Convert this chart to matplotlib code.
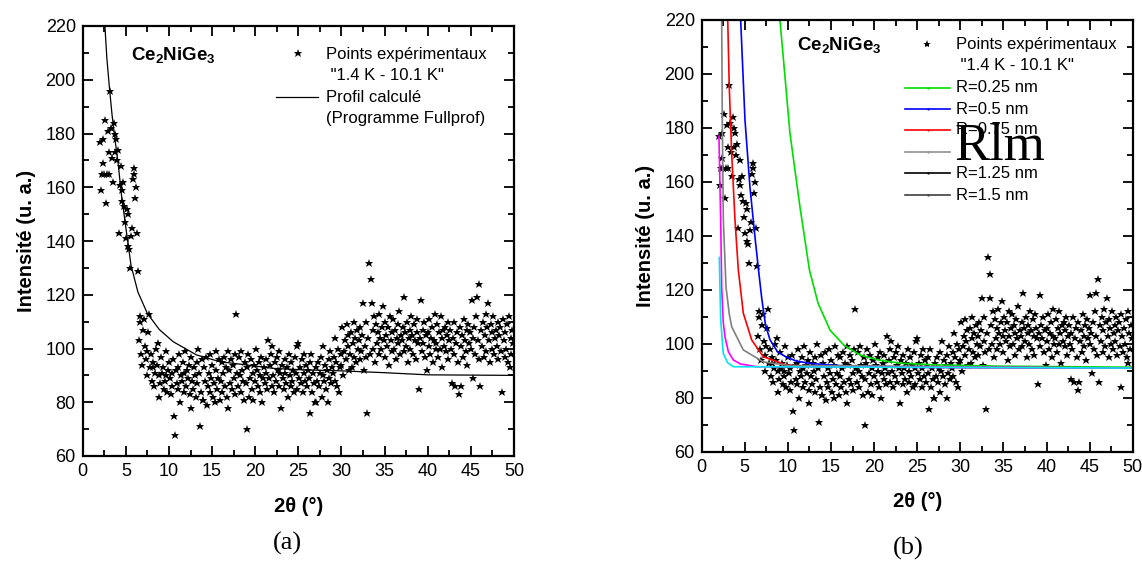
import numpy as np
import matplotlib
matplotlib.use("Agg")
import matplotlib.pyplot as plt
from matplotlib.lines import Line2D

plt.rcParams['font.family'] = ['Liberation Sans', 'DejaVu Sans']
plt.rcParams['mathtext.fontset'] = 'custom'
plt.rcParams['mathtext.rm'] = 'Liberation Sans'
plt.rcParams['mathtext.bf'] = 'Liberation Sans:bold'

# experimental points, 2theta from 2.0 to 49.9 step 0.1 (one row per degree)
x0 = 2.0
step = 0.1
y_exp = [
    177, 159, 165, 178, 169, 165, 185, 154, 165, 181,
    165, 173, 196, 182, 171, 162, 184, 180, 173, 178,
    170, 174, 143, 161, 168, 159, 155, 162, 153, 147,
    141, 152, 138, 150, 137, 130, 142, 145, 163, 167,
    165, 156, 160, 143, 129, 103, 112, 110, 98, 94,
    107, 111, 101, 96, 90, 99, 106, 113, 93, 98,
    88, 95, 93, 86, 91, 100, 94, 102, 90, 82,
    87, 97, 91, 93, 85, 88, 90, 99, 84, 92,
    95, 89, 83, 91, 86, 96, 75, 68, 92, 87,
    93, 85, 98, 80, 90, 88, 95, 84, 91, 99,
    86, 92, 89, 94, 83, 78, 97, 88, 85, 93,
    90, 82, 95, 87, 100, 91, 71, 84, 96, 81,
    81, 93, 88, 97, 79, 86, 91, 84, 98, 89,
    94, 82, 87, 80, 92, 99, 85, 89, 96, 81,
    88, 95, 84, 91, 97, 86, 93, 82, 99, 78,
    92, 87, 96, 85, 94, 89, 83, 98, 113, 91,
    86, 97, 90, 84, 99, 92, 88, 81, 95, 87,
    70, 93, 98, 82, 89, 96, 85, 91, 81, 94,
    88, 100, 92, 86, 95, 90, 84, 97, 80, 89,
    93, 87, 96, 91, 85, 103, 89, 94, 98, 86,
    101, 90, 84, 95, 88, 97, 92, 86, 99, 91,
    78, 94, 89, 85, 96, 91, 87, 93, 82, 98,
    90, 86, 95, 88, 92, 84, 97, 91, 85, 101,
    102, 89, 93, 87, 96, 84, 91, 98, 88, 94,
    86, 92, 89, 95, 76, 98, 84, 91, 87, 80,
    80, 93, 88, 95, 86, 91, 97, 82, 90, 101,
    88, 94, 85, 92, 80, 96, 89, 99, 87, 93,
    91, 97, 88, 104, 95, 86, 100, 84, 93, 98,
    94, 108, 90, 99, 103, 96, 109, 101, 105, 92,
    98, 106, 93, 102, 110, 97, 104, 95, 107, 100,
    103, 96, 108, 99, 105, 117, 92, 101, 110, 97,
    76, 104, 132, 98, 126, 117, 107, 100, 112, 95,
    109, 102, 106, 98, 113, 104, 100, 108, 116, 103,
    97, 110, 105, 101, 108, 94, 112, 103, 99, 106,
    111, 100, 107, 96, 104, 109, 102, 114, 98, 105,
    103, 108, 99, 119, 106, 101, 110, 95, 104, 107,
    100, 112, 105, 98, 109, 103, 96, 111, 106, 102,
    85, 104, 118, 99, 107, 102, 110, 97, 105, 92,
    106, 101, 111, 98, 104, 108, 95, 103, 113, 100,
    102, 109, 97, 106, 100, 112, 104, 93, 107, 101,
    108, 99, 105, 110, 96, 103, 107, 100, 87, 104,
    98, 110, 86, 102, 106, 95, 83, 108, 86, 101,
    105, 97, 111, 103, 99, 107, 94, 109, 102, 106,
    100, 118, 104, 89, 108, 98, 112, 119, 103, 96,
    124, 86, 107, 101, 110, 97, 105, 113, 99, 108,
    117, 103, 95, 109, 106, 100, 112, 98, 104, 107,
    101, 110, 96, 105, 108, 99, 84, 111, 103, 97,
    106, 100, 109, 95, 112, 93, 104, 98, 107, 102,
]
x_exp = x0 + step * np.arange(len(y_exp))

# Fullprof calculated profile (panel a)
prof_x = [2.5, 2.8, 3.1, 3.4, 3.7, 4.1, 4.5, 5.0, 5.6, 6.4, 7.5, 8.9, 10.5, 13.2, 15.9, 18.2, 22.1, 26, 29.8, 35, 40, 50]
prof_y = [224, 208, 197, 187, 179, 169, 157, 145, 131, 121, 113, 107, 102.5, 97.6, 95.1, 94.2, 92.6, 92, 91.7, 91, 90.2, 90]

# model curves for several radii (panel b)
radii = ["R=0.25 nm", "R=0.5 nm", "R=0.75 nm", "R=1 nm", "R=1.25 nm", "R=1.5 nm"]
curve_colors = ["#00dd00", "#0000ff", "#ff0000", "#808080", "#ff00ff", "#00e5ee"]
legend_colors = ["#00dd00", "#0000ff", "#ff0000", "#909090", "#000000", "#404040"]
curves_x = [
    [8.8, 9.08, 10.24, 11.4, 12.5, 13.5, 14.9, 16.5, 18.4, 20.5, 23, 27, 34.6, 50],
    [4.4, 4.52, 5.02, 5.6, 6.18, 6.57, 6.96, 7.4, 7.92, 8.8, 9.86, 11, 12.6, 16, 25, 50],
    [2.95, 3.02, 3.2, 3.48, 3.86, 4.25, 4.83, 5.8, 7.15, 9.86, 12.6, 50],
    [2.28, 2.32, 2.39, 2.51, 2.82, 3.2, 3.48, 4.83, 7.15, 10, 50],
    [2.0, 2.2, 2.32, 2.5, 2.7, 3.1, 3.67, 4.5, 6.38, 50],
    [2.04, 2.2, 2.5, 3.0, 3.67, 50],
]
curves_y = [
    [235, 220, 178, 150.7, 127.3, 115, 105, 99.5, 95.8, 94, 92.8, 92.2, 91.7, 91.3],
    [230, 220, 183, 158, 139.6, 128, 117, 107, 101.5, 97, 95, 93.6, 92.7, 91.9, 91.3, 91],
    [230, 220, 195, 170.5, 146, 127.3, 111.3, 101.4, 95.2, 92.1, 91.5, 91],
    [240, 220, 183, 146, 121, 111, 106.3, 97.7, 93.3, 92, 91],
    [177, 146, 121, 108, 102.6, 97, 94, 92.5, 91.5, 91],
    [132, 109, 96.4, 93, 91.5, 91],
]

W, H = 1142, 563
fig = plt.figure(figsize=(W / 100, H / 100), dpi=100)


def fx(px):
    return px / W


def fy(py):
    return 1 - py / H


def style_axes(ax):
    ax.set_xlim(0, 50)
    ax.set_ylim(60, 220)
    ax.set_xticks(np.arange(0, 51, 5))
    ax.set_xticks(np.arange(0, 51, 2.5), minor=True)
    ax.set_yticks(np.arange(60, 221, 20))
    ax.set_yticks(np.arange(60, 221, 10), minor=True)
    ax.tick_params(which='both', direction='in', top=True, right=True, labelsize=13, width=1.3)
    ax.tick_params(which='major', length=7, pad=5)
    ax.tick_params(which='minor', length=4)
    for s in ax.spines.values():
        s.set_linewidth(1.6)
    ax.set_xlabel("2θ (°)", fontsize=14.5, fontweight='bold', labelpad=12)
    ax.set_ylabel("Intensité (u. a.)", fontsize=14.5, fontweight='bold', labelpad=7)


# ---- panel (a)
axa = fig.add_axes([fx(82.7), fy(456), (514 - 82.7) / W, (456 - 26) / H])
axa.plot(x_exp, y_exp, ls='none', marker='*', ms=6.3, color='black', mew=0)
axa.plot(prof_x, prof_y, color='black', lw=0.9)
style_axes(axa)

fig.text(fx(131), fy(55), r'$\mathbf{Ce_2NiGe_3}$', fontsize=13.5, va='center')
fig.add_artist(Line2D([fx(297.5)], [fy(53)], marker='*', ms=6.3, color='black', mew=0))
fig.text(fx(326), fy(54), "Points expérimentaux", fontsize=12, va='center')
fig.text(fx(326), fy(75), ' "1.4 K - 10.1 K"', fontsize=12, va='center')
fig.add_artist(Line2D([fx(275.7), fx(318.3)], [fy(97), fy(97)], color='black', lw=0.9))
fig.text(fx(326), fy(97), "Profil calculé", fontsize=12, va='center')
fig.text(fx(326), fy(119), "(Programme Fullprof)", fontsize=12, va='center')
fig.text(fx(287), fy(543), "(a)", fontsize=19, family='Liberation Serif', ha='center', va='center')

# ---- panel (b)
axb = fig.add_axes([fx(701.7), fy(451.7), 431 / W, (451.7 - 20) / H])
axb.plot(x_exp, y_exp, ls='none', marker='*', ms=6.3, color='black', mew=0)
for cx, cy, col in zip(curves_x, curves_y, curve_colors):
    axb.plot(cx, cy, color=col, lw=1.2)
style_axes(axb)

fig.text(fx(797), fy(45), r'$\mathbf{Ce_2NiGe_3}$', fontsize=13.5, va='center')
fig.add_artist(Line2D([fx(926.5)], [fy(44)], marker='*', ms=6, color='black', mew=0))
fig.text(fx(955.5), fy(44), "Points expérimentaux", fontsize=12, va='center')
fig.text(fx(955.5), fy(66), ' "1.4 K - 10.1 K"', fontsize=12, va='center')
leg_y = [88, 109, 130, 152, 173, 195]
for lab, col, py in zip(radii, legend_colors, leg_y):
    fig.add_artist(Line2D([fx(905), fx(950)], [fy(py), fy(py)], color=col, lw=1.2))
    fig.add_artist(Line2D([fx(927.5)], [fy(py)], marker='o', ms=1.6, color=col, mew=0))
    if lab != "R=1 nm":
        fig.text(fx(955.5), fy(py), lab, fontsize=12, va='center')
fig.text(fx(954), fy(160), "Rlm", fontsize=38, family='Liberation Serif', va='baseline')
fig.text(fx(908), fy(548), "(b)", fontsize=19, family='Liberation Serif', ha='center', va='center')

fig.savefig("out.png", dpi=100)
